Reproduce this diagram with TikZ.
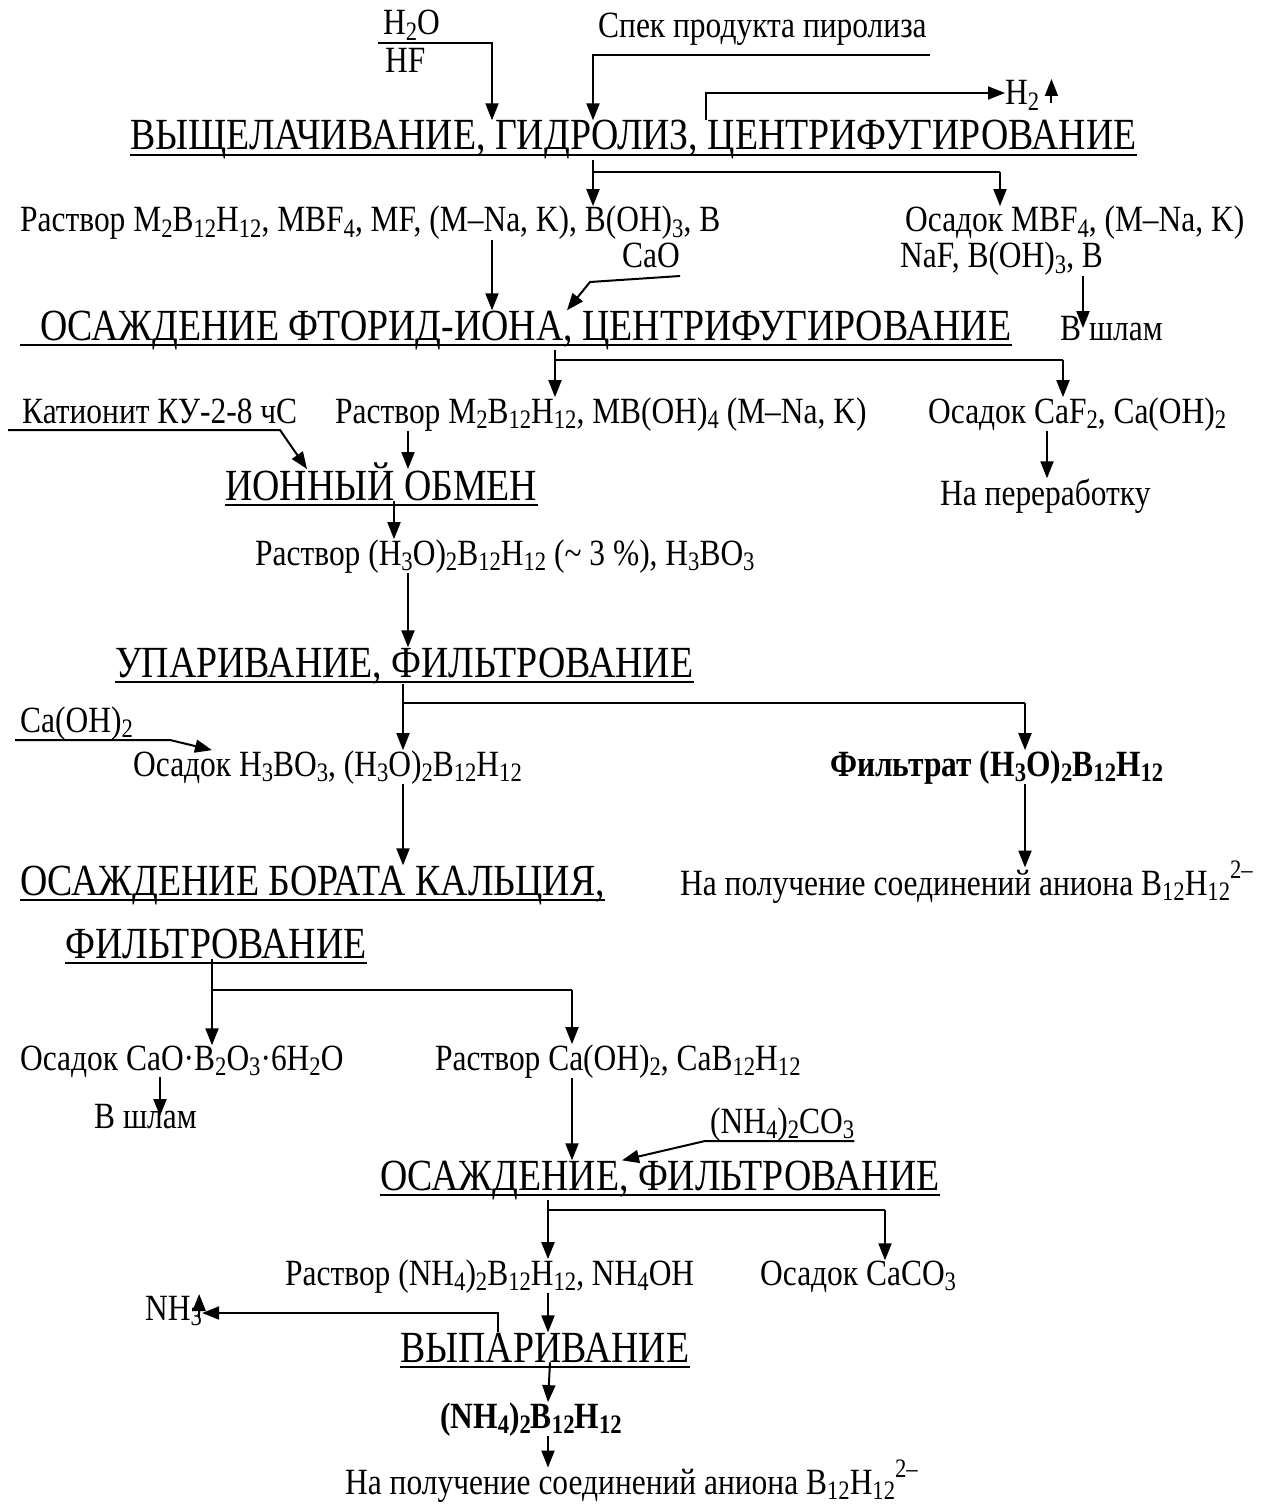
\documentclass[tikz,border=0pt]{standalone}
\usepackage{fontspec}
\setmainfont[FakeStretch=0.85]{Liberation Serif}
\usepackage{tikz}
\usetikzlibrary{arrows.meta}
\makeatletter
\newcommand{\sbs}[1]{\raisebox{-0.16em}{\fontsize{\the\dimexpr 0.72\dimexpr\f@size pt\relax\relax}{0pt}\selectfont #1}}
\newcommand{\sps}[1]{\raisebox{0.45em}{\fontsize{\the\dimexpr 0.72\dimexpr\f@size pt\relax\relax}{0pt}\selectfont #1}}
\makeatother
\tikzset{
  stage/.style ={inner sep=0pt, anchor=base west, font=\fontsize{44.5}{50}\selectfont},
  lbl/.style   ={inner sep=0pt, anchor=base west, font=\fontsize{37}{40}\selectfont},
  arrow/.style ={-{Triangle[length=17pt,width=13pt]}, line width=2pt},
  uline/.style ={line width=2.5pt},
  link/.style  ={line width=2pt}
}

\begin{document}
\begin{tikzpicture}[x=1pt,y=-1pt]
  \useasboundingbox (0,0) rectangle (1266,1506);
  % leaching
  \node[lbl] (h2o) at (383,35) {H\sbs{2}O};
  \node[lbl] (hf) at (385,73) {HF};
  \node[lbl] (spek) at (598,38) {Спек продукта пиролиза};
  \node[stage] (leach) at (130,150) {ВЫЩЕЛАЧИВАНИЕ, ГИДРОЛИЗ, ЦЕНТРИФУГИРОВАНИЕ};
  \node[lbl] (htwo) at (1005,105) {H\sbs{2}};
  \draw[uline] ([yshift=-5pt]leach.base west) -- ([yshift=-5pt]leach.base east);
  \coordinate (h2o-in) at (378,43);
  \coordinate (h2o-x) at (492,43);
  \coordinate (spek-in) at (930,55);
  \coordinate (spek-x) at (593,55);
  \coordinate (gas-x) at (706,93);
  \draw[arrow] (h2o-in) -- (h2o-x) -- (h2o-x |- leach.north);
  \draw[arrow] (spek-in) -- (spek-x) -- (spek-x |- leach.north);
  \draw[arrow] (gas-x |- leach.north) -- (gas-x) -- (gas-x -| htwo.west);
  \draw[arrow] ([xshift=12pt,yshift=2pt]htwo.base east) -- ([xshift=12pt,yshift=26pt]htwo.base east);
  % fluoride precipitation
  \node[lbl] (sol1) at (20,232) {Раствор M\sbs{2}B\sbs{12}H\sbs{12}, MBF\sbs{4}, MF, (M–Na, K), B(OH)\sbs{3}, B};
  \node[lbl] (prec1) at (905,232) {Осадок MBF\sbs{4}, (M–Na, K)};
  \node[lbl] (prec1b) at (900,268) {NaF, B(OH)\sbs{3}, B};
  \node[lbl] (cao) at (622,268) {CaO};
  \node[stage] (fluor) at (40,340) {ОСАЖДЕНИЕ ФТОРИД-ИОНА, ЦЕНТРИФУГИРОВАНИЕ};
  \node[lbl] (slime1) at (1060,340) {В шлам};
  \draw[uline] ([xshift=-20pt,yshift=-5pt]fluor.base west) -- ([yshift=-5pt]fluor.base east);
  \coordinate (split1) at (1000,172);
  \draw[arrow] (spek-x |- leach.south) -- (spek-x |- sol1.north);
  \draw[link] (spek-x |- split1) -- (split1);
  \draw[arrow] (split1) -- (split1 |- prec1.north);
  \coordinate (sol1-x) at (492,0);
  \coordinate (cao-bend) at (590,282);
  \coordinate (cao-tip) at (567,0);
  \coordinate (slime1-x) at (1083,0);
  \draw[arrow] (sol1-x |- sol1.south) -- (sol1-x |- fluor.north);
  \draw[arrow] ([yshift=-8pt]cao.base east) -- (cao-bend) -- (cao-tip |- fluor.north);
  \draw[arrow] (slime1-x |- prec1b.south) -- (slime1-x |- slime1.center);
  % ion exchange
  \node[lbl] (resin) at (22,423) {Катионит КУ-2-8 чС};
  \node[lbl] (sol2) at (335,423) {Раствор M\sbs{2}B\sbs{12}H\sbs{12}, MB(OH)\sbs{4} (M–Na, K)};
  \node[lbl] (prec2) at (928,423) {Осадок CaF\sbs{2}, Ca(OH)\sbs{2}};
  \node[stage] (ionex) at (225,500) {ИОННЫЙ ОБМЕН};
  \node[lbl] (recyc) at (940,505) {На переработку};
  \draw[uline] ([yshift=-5pt]ionex.base west) -- ([yshift=-5pt]ionex.base east);
  \coordinate (fl-x) at (555,0);
  \coordinate (split2) at (1063,360);
  \draw[arrow] (fl-x |- fluor.south) -- (fl-x |- sol2.north);
  \draw[link] (fl-x |- split2) -- (split2);
  \draw[arrow] (split2) -- (split2 |- prec2.north);
  \coordinate (resin-bend) at (280,430);
  \coordinate (resin-tip) at (307,0);
  \coordinate (sol2-x) at (408,0);
  \coordinate (prec2-x) at (1047,0);
  \draw[arrow] ([xshift=-14pt,yshift=-7pt]resin.base west) -- (resin-bend) -- ([yshift=-7pt]resin-tip |- ionex.north);
  \draw[arrow] (sol2-x |- sol2.south) -- ([yshift=-7pt]sol2-x |- ionex.north);
  \draw[arrow] (prec2-x |- prec2.south) -- (prec2-x |- recyc.north);
  % evaporation
  \node[lbl] (sol3) at (255,565) {Раствор (H\sbs{3}O)\sbs{2}B\sbs{12}H\sbs{12} (\textasciitilde{} 3 \%), H\sbs{3}BO\sbs{3}};
  \node[stage] (evap) at (115,677) {УПАРИВАНИЕ, ФИЛЬТРОВАНИЕ};
  \draw[uline] ([yshift=-5pt]evap.base west) -- ([yshift=-5pt]evap.base east);
  \coordinate (ion-x) at (394,0);
  \draw[arrow] (ion-x |- ionex.south) -- (ion-x |- sol3.north);
  \draw[arrow] (sol2-x |- sol3.south) -- (sol2-x |- evap.north);
  \node[lbl] (caoh) at (20,732) {Ca(OH)\sbs{2}};
  \node[lbl] (prec3) at (133,776) {Осадок H\sbs{3}BO\sbs{3}, (H\sbs{3}O)\sbs{2}B\sbs{12}H\sbs{12}};
  \node[lbl] (filt) at (830,776) {\bfseries Фильтрат (H\sbs{3}O)\sbs{2}B\sbs{12}H\sbs{12}};
  \coordinate (ev-x) at (403,0);
  \coordinate (split3) at (1025,703);
  \coordinate (caoh-bend) at (170,740);
  \coordinate (caoh-tip) at (212,0);
  \draw[arrow] (ev-x |- evap.south) -- (ev-x |- prec3.north);
  \draw[link] (ev-x |- split3) -- (split3);
  \draw[arrow] (split3) -- (split3 |- filt.north);
  \draw[arrow] ([xshift=-5pt,yshift=-8pt]caoh.base west) -- (caoh-bend) -- (caoh-tip |- prec3.north);
  % calcium borate
  \node[stage] (borate) at (20,895) {ОСАЖДЕНИЕ БОРАТА КАЛЬЦИЯ,};
  \node[lbl] (use1) at (680,895) {На получение соединений аниона B\sbs{12}H\sbs{12}\sps{2–}};
  \node[stage] (borate2) at (65,958) {ФИЛЬТРОВАНИЕ};
  \draw[uline] ([yshift=-5pt]borate.base west) -- ([yshift=-5pt]borate.base east);
  \draw[uline] ([yshift=-5pt]borate2.base west) -- ([yshift=-5pt]borate2.base east);
  \draw[arrow] (ev-x |- prec3.south) -- (ev-x |- borate.north);
  \draw[arrow] (split3 |- filt.south) -- ([yshift=-7pt]split3 |- use1.north);
  \node[lbl] (prec4) at (20,1070) {Осадок CaO·B\sbs{2}O\sbs{3}·6H\sbs{2}O};
  \node[lbl] (sol4) at (435,1070) {Раствор Ca(OH)\sbs{2}, CaB\sbs{12}H\sbs{12}};
  \node[lbl] (slime2) at (94,1128) {В шлам};
  \coordinate (bo-x) at (212,0);
  \coordinate (split4) at (572,990);
  \coordinate (prec4-x) at (160,0);
  \draw[arrow] (bo-x |- borate2.south) -- (bo-x |- prec4.north);
  \draw[link] (bo-x |- split4) -- (split4);
  \draw[arrow] (split4) -- (split4 |- sol4.north);
  \draw[arrow] (prec4-x |- prec4.south) -- (prec4-x |- slime2.center);
  % carbonate precipitation
  \node[lbl] (amcarb) at (710,1133) {(NH\sbs{4})\sbs{2}CO\sbs{3}};
  \node[stage] (carb) at (380,1190) {ОСАЖДЕНИЕ, ФИЛЬТРОВАНИЕ};
  \draw[uline] ([yshift=-5pt]carb.base west) -- ([yshift=-5pt]carb.base east);
  \coordinate (amcarb-bend) at (705,1141);
  \coordinate (amcarb-tip) at (622,0);
  \draw[arrow] (split4 |- sol4.south) -- (split4 |- carb.north);
  \draw[arrow] ([yshift=-8pt]amcarb.base east) -- (amcarb-bend) -- (amcarb-tip |- carb.north);
  \node[lbl] (sol5) at (285,1285) {Раствор (NH\sbs{4})\sbs{2}B\sbs{12}H\sbs{12}, NH\sbs{4}OH};
  \node[lbl] (prec5) at (760,1285) {Осадок CaCO\sbs{3}};
  \coordinate (ca-x) at (548,0);
  \coordinate (split5) at (885,1210);
  \draw[arrow] (ca-x |- carb.south) -- (ca-x |- sol5.north);
  \draw[link] (ca-x |- split5) -- (split5);
  \draw[arrow] (split5) -- (split5 |- prec5.north);
  % drying
  \node[lbl] (nh3) at (145,1320) {NH\sbs{3}};
  \node[stage] (dry) at (400,1362) {ВЫПАРИВАНИЕ};
  \node[lbl] (salt) at (440,1428) {\bfseries (NH\sbs{4})\sbs{2}B\sbs{12}H\sbs{12}};
  \node[lbl] (use2) at (345,1494) {На получение соединений аниона B\sbs{12}H\sbs{12}\sps{2–}};
  \draw[uline] ([yshift=-5pt]dry.base west) -- ([yshift=-5pt]dry.base east);
  \coordinate (nh3-bend) at (498,1313);
  \draw[arrow] (ca-x |- sol5.south) -- (ca-x |- dry.north);
  \draw[arrow] (nh3-bend |- dry.north) -- (nh3-bend) -- (nh3-bend -| nh3.east);
  \draw[arrow] ([xshift=-3pt,yshift=2pt]nh3.base east) -- ([xshift=-3pt,yshift=26pt]nh3.base east);
  \draw[arrow] ([xshift=2pt]ca-x |- dry.south) -- (ca-x |- salt.north);
  \draw[arrow] (ca-x |- salt.south) -- ([yshift=-8pt]ca-x |- use2.north);
\end{tikzpicture}
\end{document}
